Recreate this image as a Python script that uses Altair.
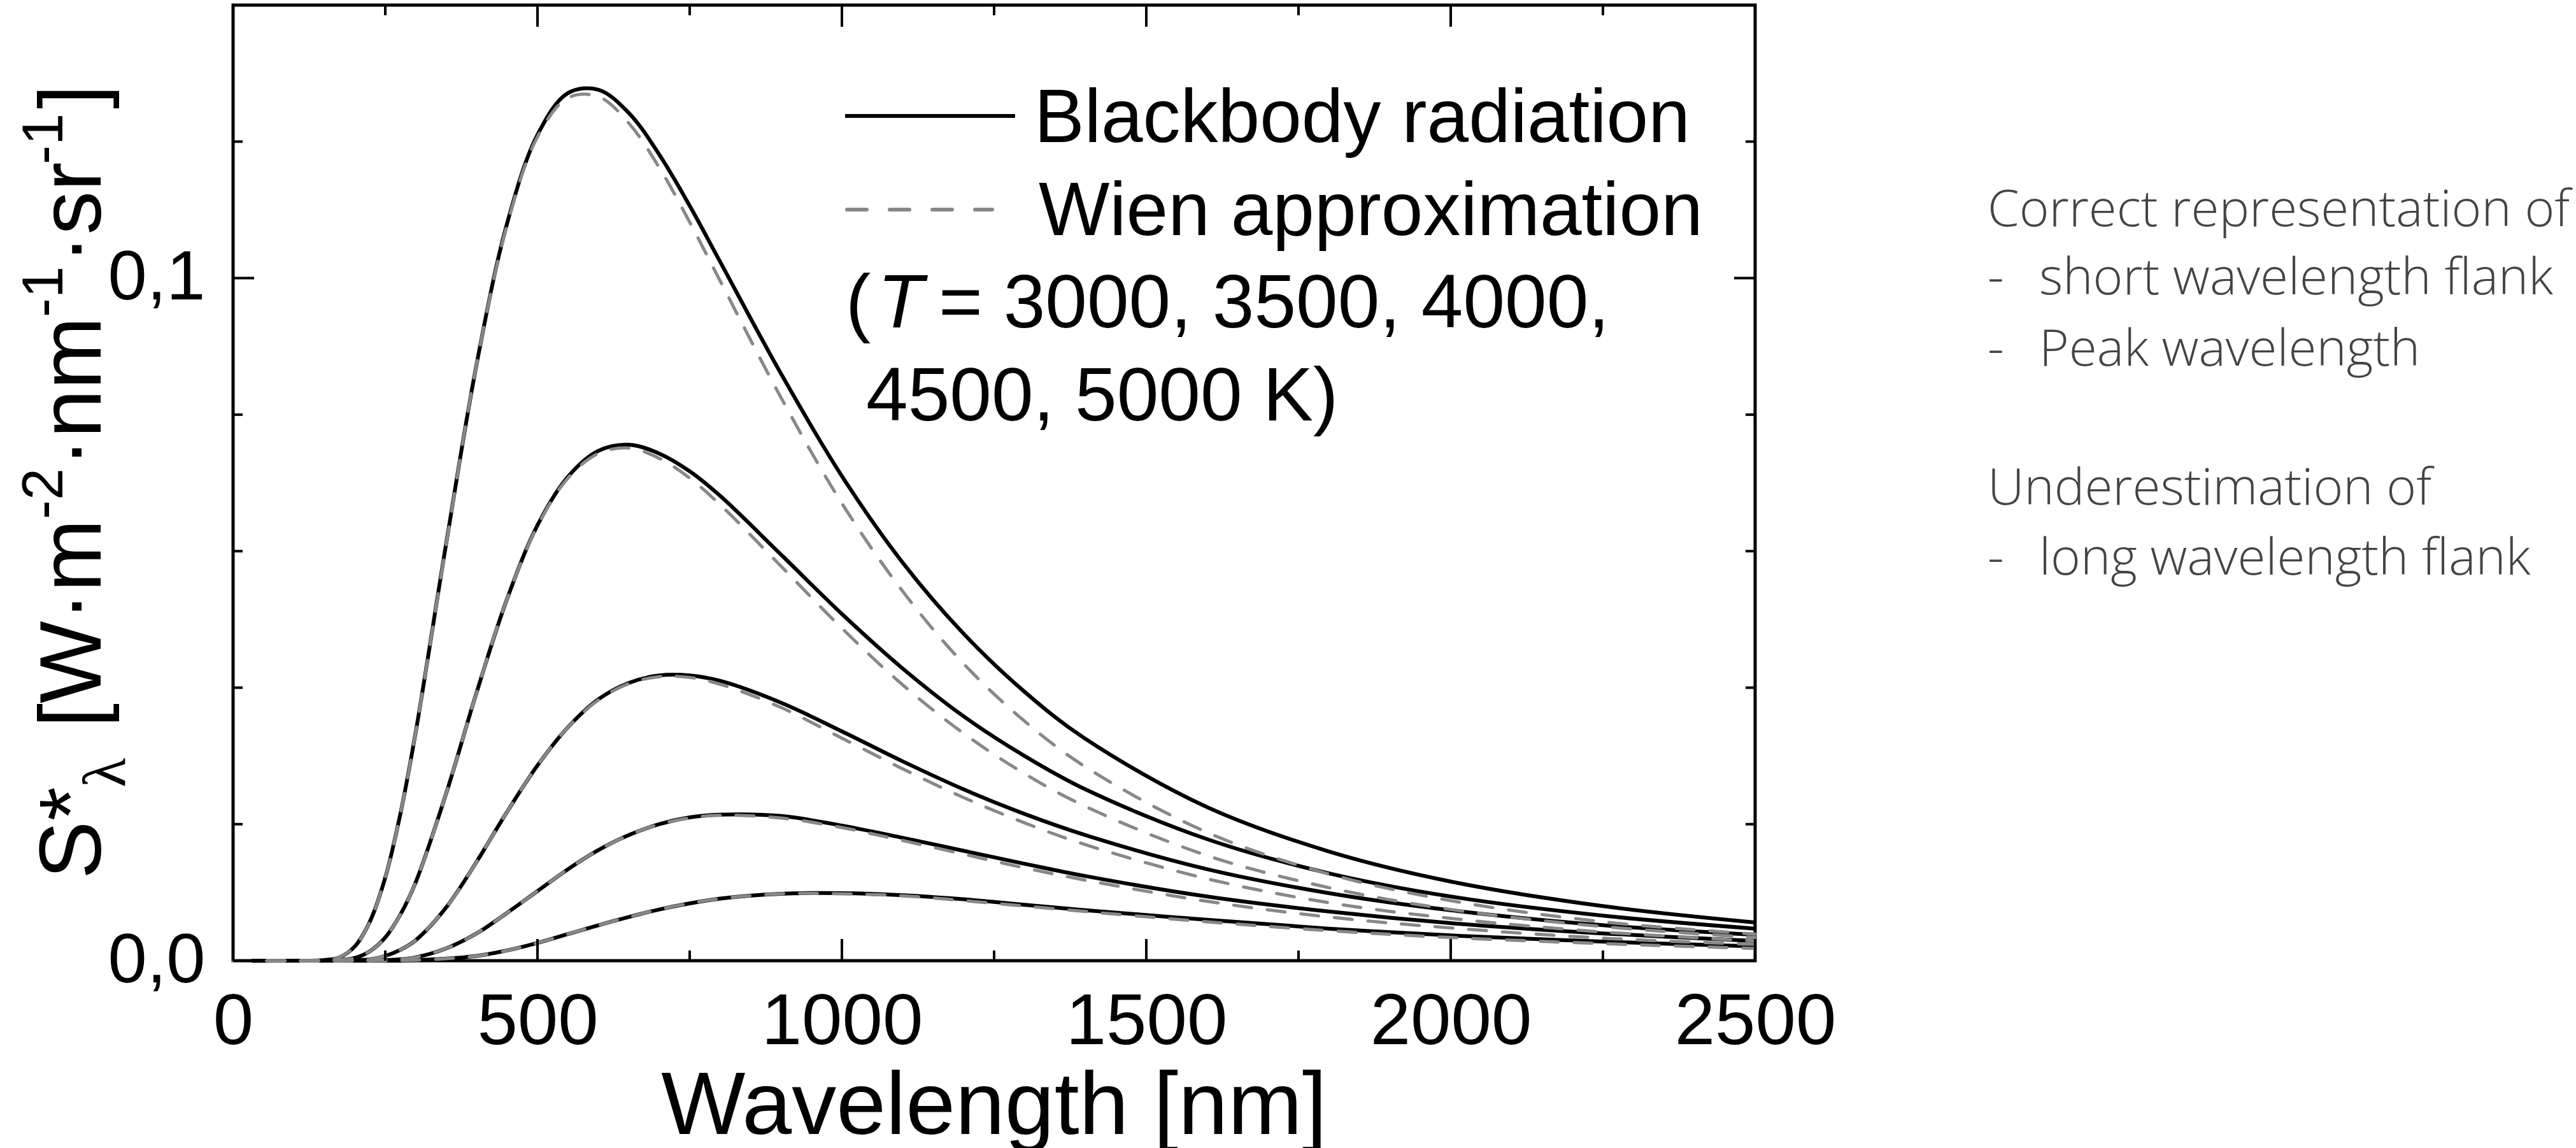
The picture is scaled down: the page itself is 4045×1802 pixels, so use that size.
import altair as alt
import pandas as pd

# ---------------- data ----------------
wavelengths = [0, 100, 150, 175, 200, 225, 250, 275, 300, 350, 400, 450, 500, 550, 600,
               650, 700, 750, 800, 900, 1000, 1100, 1200, 1300, 1400, 1600, 1800, 2000, 2250, 2500]

planck_5000 = [0, 0, 0.0001, 0.0005, 0.0021, 0.0058, 0.0122, 0.0216, 0.0335, 0.0611, 0.0874, 0.1080, 0.1210, 0.1271, 0.1276,
               0.1242, 0.1181, 0.1106, 0.1024, 0.0860, 0.0710, 0.0583, 0.0479, 0.0394, 0.0325, 0.0225, 0.0160, 0.0116, 0.0080, 0.0056]
wien_5000 = [0, 0, 0.0001, 0.0005, 0.0021, 0.0058, 0.0122, 0.0216, 0.0335, 0.0610, 0.0874, 0.1078, 0.1207, 0.1264, 0.1266,
             0.1227, 0.1162, 0.1082, 0.0996, 0.0825, 0.0670, 0.0541, 0.0435, 0.0351, 0.0284, 0.0188, 0.0127, 0.0088, 0.0057, 0.0039]

planck_4500 = [0, 0, 0, 0.0001, 0.0004, 0.0014, 0.0034, 0.0068, 0.0115, 0.0245, 0.0393, 0.0530, 0.0638, 0.0709, 0.0747,
               0.0756, 0.0743, 0.0717, 0.0681, 0.0595, 0.0508, 0.0428, 0.0358, 0.0300, 0.0251, 0.0178, 0.0128, 0.0094, 0.0066, 0.0047]
wien_4500 = [0, 0, 0, 0.0001, 0.0004, 0.0014, 0.0034, 0.0068, 0.0115, 0.0245, 0.0393, 0.0530, 0.0637, 0.0707, 0.0743,
             0.0751, 0.0736, 0.0707, 0.0668, 0.0578, 0.0487, 0.0404, 0.0333, 0.0274, 0.0226, 0.0154, 0.0107, 0.0075, 0.0050, 0.0034]

planck_4000 = [0, 0, 0, 0, 0.0001, 0.0002, 0.0007, 0.0016, 0.0030, 0.0078, 0.0145, 0.0218, 0.0286, 0.0342, 0.0383,
               0.0407, 0.0418, 0.0418, 0.0410, 0.0378, 0.0336, 0.0292, 0.0251, 0.0215, 0.0184, 0.0134, 0.0099, 0.0074, 0.0052, 0.0038]
wien_4000 = [0, 0, 0, 0, 0.0001, 0.0002, 0.0007, 0.0016, 0.0030, 0.0078, 0.0145, 0.0218, 0.0286, 0.0342, 0.0382,
             0.0406, 0.0416, 0.0415, 0.0405, 0.0371, 0.0326, 0.0281, 0.0239, 0.0202, 0.0170, 0.0120, 0.0085, 0.0062, 0.0042, 0.0029]

planck_3500 = [0, 0, 0, 0, 0, 0, 0.0001, 0.0002, 0.0005, 0.0018, 0.0040, 0.0070, 0.0102, 0.0134, 0.0162,
               0.0184, 0.0200, 0.0210, 0.0214, 0.0212, 0.0198, 0.0180, 0.0161, 0.0142, 0.0124, 0.0094, 0.0072, 0.0055, 0.0040, 0.0029]
wien_3500 = [0, 0, 0, 0, 0, 0, 0.0001, 0.0002, 0.0005, 0.0018, 0.0040, 0.0070, 0.0102, 0.0134, 0.0162,
             0.0184, 0.0200, 0.0209, 0.0213, 0.0209, 0.0195, 0.0176, 0.0156, 0.0136, 0.0118, 0.0087, 0.0064, 0.0048, 0.0033, 0.0024]

planck_3000 = [0, 0, 0, 0, 0, 0, 0, 0, 0.0001, 0.0003, 0.0007, 0.0015, 0.0026, 0.0039, 0.0052,
               0.0064, 0.0075, 0.0084, 0.0091, 0.0098, 0.0099, 0.0096, 0.0090, 0.0082, 0.0074, 0.0060, 0.0047, 0.0037, 0.0028, 0.0021]
wien_3000 = [0, 0, 0, 0, 0, 0, 0, 0, 0.0001, 0.0003, 0.0007, 0.0015, 0.0026, 0.0039, 0.0052,
             0.0064, 0.0075, 0.0084, 0.0091, 0.0098, 0.0098, 0.0095, 0.0088, 0.0080, 0.0072, 0.0057, 0.0044, 0.0034, 0.0025, 0.0018]

temperatures = [3000, 3500, 4000, 4500, 5000]
planck_series = [planck_3000, planck_3500, planck_4000, planck_4500, planck_5000]
wien_series = [wien_3000, wien_3500, wien_4000, wien_4500, wien_5000]

x_major_ticks = [0, 500, 1000, 1500, 2000, 2500]
x_minor_ticks = [250, 750, 1250, 1750, 2250]
y_major_ticks = [0.0, 0.1]
y_minor_ticks = [0.02, 0.04, 0.06, 0.08, 0.12]

legend_labels = ["Blackbody radiation", "Wien approximation"]
legend_temps_1 = "= 3000, 3500, 4000,"
legend_temps_2 = "4500, 5000 K)"
notes = ["Correct representation of", "short wavelength flank", "Peak wavelength",
         "Underestimation of", "long wavelength flank"]

# ---------------- tables ----------------
rows_p, rows_w = [], []
for T, ps, ws in zip(temperatures, planck_series, wien_series):
    for w, p, v in zip(wavelengths, ps, ws):
        rows_p.append({"wl": w, "val": p, "T": str(T)})
        rows_w.append({"wl": w, "val": v, "T": str(T)})
df_p = pd.DataFrame(rows_p)
df_w = pd.DataFrame(rows_w)

FONT = "Liberation Sans"
W, H = 2390, 1500
GRAY = "#888888"

xscale = alt.Scale(domain=[0, 2500], nice=False, zero=False)
yscale = alt.Scale(domain=[0, 0.14], nice=False, zero=False)
xaxis = alt.Axis(values=x_major_ticks, title=None, ticks=False, tickSize=0, domain=False, grid=False,
                 labelFont=FONT, labelFontSize=114, labelColor="black", labelPadding=40, labelLimit=1000,
                 labelFlush=False, labelOverlap=False, format="d")
yaxis = alt.Axis(values=y_major_ticks, title=None, ticks=False, tickSize=0, domain=False, grid=False,
                 labelFont=FONT, labelFontSize=110, labelColor="black", labelPadding=44, labelLimit=1000,
                 labelFlush=False, labelOverlap=False,
                 labelExpr="replace(format(datum.value, '.1f'), '.', ',')")

X = alt.X("wl:Q", scale=xscale, axis=xaxis)
Y = alt.Y("val:Q", scale=yscale, axis=yaxis)

planck_layer = alt.Chart(df_p).mark_line(color="black", strokeWidth=6, interpolate="catmull-rom").encode(
    x=X, y=Y, detail="T:N")
wien_layer = alt.Chart(df_w).mark_line(color=GRAY, strokeWidth=5, strokeDash=[28, 25], strokeCap="round",
                                       interpolate="catmull-rom").encode(x=X, y=Y, detail="T:N")

layers = [planck_layer, wien_layer]

# inward ticks on all four sides
dxM = pd.DataFrame({"wl": x_major_ticks})
dxm = pd.DataFrame({"wl": x_minor_ticks})
dyM = pd.DataFrame({"val": y_major_ticks})
dym = pd.DataFrame({"val": y_minor_ticks})
for d, L in [(dxM, 34), (dxm, 16)]:
    layers.append(alt.Chart(d).mark_rule(color="black", strokeWidth=4).encode(
        x=X, y=alt.value(H), y2=alt.value(H - L)))
    layers.append(alt.Chart(d).mark_rule(color="black", strokeWidth=4).encode(
        x=X, y=alt.value(0), y2=alt.value(L)))
for d, L in [(dyM, 33), (dym, 15)]:
    layers.append(alt.Chart(d).mark_rule(color="black", strokeWidth=4).encode(
        y=Y, x=alt.value(0), x2=alt.value(L)))
    layers.append(alt.Chart(d).mark_rule(color="black", strokeWidth=4).encode(
        y=Y, x=alt.value(W), x2=alt.value(W - L)))


def txt(s, x, y, size, font=FONT, color="black", align="left", angle=0, style="normal", weight="normal"):
    return alt.Chart(pd.DataFrame({"t": [s]})).mark_text(
        align=align, baseline="alphabetic", fontSize=size, font=font, color=color,
        angle=angle, fontStyle=style, fontWeight=weight).encode(
        x=alt.value(x), y=alt.value(y), text="t:N")


# x-axis title
layers.append(txt("Wavelength [nm]", W / 2, 1772, 140, align="center"))

# y-axis title, built from pieces (rotated)
NB, SB, LB = -208, -268, -170
layers += [
    txt("S*", NB, 1372, 137, angle=270),
    txt("λ", LB, 1228, 95, font="Liberation Serif", angle=270),
    txt("[W·m", NB, 1134, 137, angle=270),
    txt("-2", SB, 807, 90, angle=270),
    txt("·nm", NB, 725, 137, angle=270),
    txt("-1", SB, 490, 90, angle=270),
    txt("·sr", NB, 406, 137, angle=270),
    txt("-1", SB, 250, 90, angle=270),
    txt("]", NB, 163, 137, angle=270),
]

# legend inside the plot
layers.append(alt.Chart(pd.DataFrame({"k": [0]})).mark_rule(color="black", strokeWidth=6).encode(
    x=alt.value(961), x2=alt.value(1228), y=alt.value(174)))
layers.append(alt.Chart(pd.DataFrame({"k": [0]})).mark_rule(color=GRAY, strokeWidth=6, strokeDash=[31, 36],
                                                            strokeCap="round").encode(
    x=alt.value(964), x2=alt.value(1192), y=alt.value(321)))
layers += [
    txt(legend_labels[0], 1258, 215, 118),
    txt(legend_labels[1], 1265, 361, 118),
    txt("(", 962, 506, 118),
    txt("T", 1012, 506, 118, style="italic"),
    txt(legend_temps_1, 1108, 506, 118),
    txt(legend_temps_2, 994, 652, 118),
]

# side notes
NF, NC, NS = "Open Sans", "#444444", 80
layers += [
    txt(notes[0], 2755, 347, NS, font=NF, color=NC, weight=300),
    txt("-", 2755, 454, NS, font=NF, color=NC, weight=300),
    txt(notes[1], 2836, 454, NS, font=NF, color=NC, weight=300),
    txt("-", 2755, 566, NS, font=NF, color=NC, weight=300),
    txt(notes[2], 2836, 566, NS, font=NF, color=NC, weight=300),
    txt(notes[3], 2755, 784, NS, font=NF, color=NC, weight=300),
    txt("-", 2755, 894, NS, font=NF, color=NC, weight=300),
    txt(notes[4], 2836, 894, NS, font=NF, color=NC, weight=300),
]

chart = alt.layer(*layers).properties(
    width=W, height=H,
    padding={"left": 366, "top": 8, "right": 4045 - 366 - W, "bottom": 1802 - 8 - H},
    autosize=alt.AutoSizeParams(type="none"),
    background="white",
).configure_view(stroke="black", strokeWidth=5)

chart.save("out.html", embed_options={"renderer": "svg", "actions": False})
